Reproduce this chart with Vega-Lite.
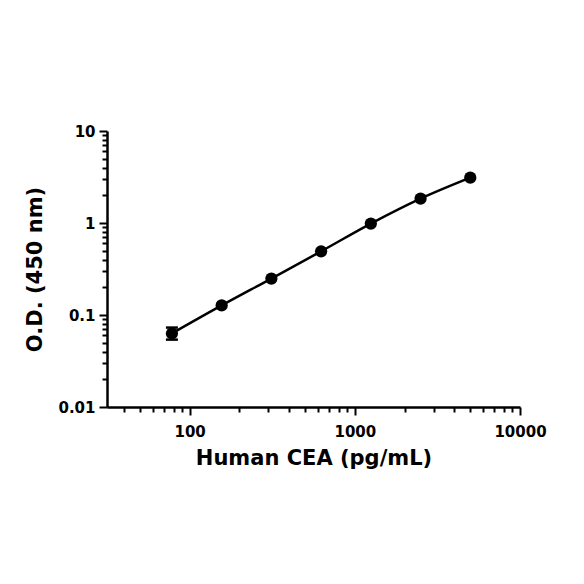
{
  "$schema": "https://vega.github.io/schema/vega-lite/v6.json",
  "autosize": {"type": "none"},
  "width": 413,
  "height": 276,
  "padding": {"left": 107, "top": 131, "right": 64, "bottom": 177},
  "background": "white",
  "config": {
    "view": {"stroke": null},
    "font": "DejaVu Sans",
    "axis": {
      "grid": false,
      "domainColor": "black",
      "domainWidth": 2.5,
      "tickColor": "black",
      "tickWidth": 2,
      "labelColor": "black",
      "labelFont": "DejaVu Sans",
      "labelFontWeight": "bold",
      "labelFontSize": 15,
      "labelFlush": false,
      "labelOverlap": false,
      "titleColor": "black",
      "titleFont": "DejaVu Sans",
      "titleFontWeight": "bold",
      "titleFontSize": 21
    }
  },
  "data": {
    "values": [
      {"conc": 78.125, "od": 0.063, "lo": 0.054, "hi": 0.073},
      {"conc": 156.25, "od": 0.127},
      {"conc": 312.5, "od": 0.249},
      {"conc": 625, "od": 0.492},
      {"conc": 1250, "od": 0.985},
      {"conc": 2500, "od": 1.84},
      {"conc": 5000, "od": 3.11}
    ]
  },
  "resolve": {"axis": {"x": "independent", "y": "independent"}},
  "layer": [
    {
      "mark": {"type": "line", "color": "black", "strokeWidth": 2.5, "interpolate": "monotone"},
      "encoding": {
        "x": {
          "field": "conc", "type": "quantitative",
          "scale": {"type": "log", "domain": [31.6, 10000], "nice": false},
          "axis": {
            "orient": "bottom",
            "values": [100, 1000, 10000],
            "format": "d",
            "tickSize": 8,
            "labelPadding": 9,
            "title": "Human CEA (pg/mL)",
            "titlePadding": 8
          }
        },
        "y": {
          "field": "od", "type": "quantitative",
          "scale": {"type": "log", "domain": [0.01, 10], "nice": false},
          "axis": {
            "orient": "left",
            "values": [0.01, 0.1, 1, 10],
            "labelExpr": "datum.value >= 1 ? format(datum.value, 'd') : format(datum.value, '.2~f')",
            "tickSize": 8,
            "labelPadding": 4,
            "title": "O.D. (450 nm)",
            "titlePadding": 12
          }
        }
      }
    },
    {
      "mark": {"type": "point", "filled": true, "color": "black", "size": 150, "opacity": 1},
      "encoding": {
        "x": {
          "field": "conc", "type": "quantitative",
          "axis": {
            "orient": "bottom",
            "values": [40, 50, 60, 70, 80, 90, 200, 300, 400, 500, 600, 700, 800, 900, 2000, 3000, 4000, 5000, 6000, 7000, 8000, 9000],
            "labels": false,
            "domain": false,
            "tickSize": 5,
            "title": null
          }
        },
        "y": {
          "field": "od", "type": "quantitative",
          "axis": {
            "orient": "left",
            "values": [0.02, 0.03, 0.04, 0.05, 0.06, 0.07, 0.08, 0.09, 0.2, 0.3, 0.4, 0.5, 0.6, 0.7, 0.8, 0.9, 2, 3, 4, 5, 6, 7, 8, 9],
            "labels": false,
            "domain": false,
            "tickSize": 5,
            "title": null
          }
        }
      }
    },
    {
      "transform": [{"filter": "isValid(datum.lo)"}],
      "mark": {"type": "errorbar", "color": "black", "ticks": {"color": "black", "size": 12, "thickness": 2.5, "opacity": 1}, "rule": {"color": "black", "strokeWidth": 2.5, "opacity": 1}},
      "encoding": {
        "x": {"field": "conc", "type": "quantitative", "axis": null},
        "y": {"field": "lo", "type": "quantitative", "axis": null},
        "y2": {"field": "hi"}
      }
    }
  ]
}
